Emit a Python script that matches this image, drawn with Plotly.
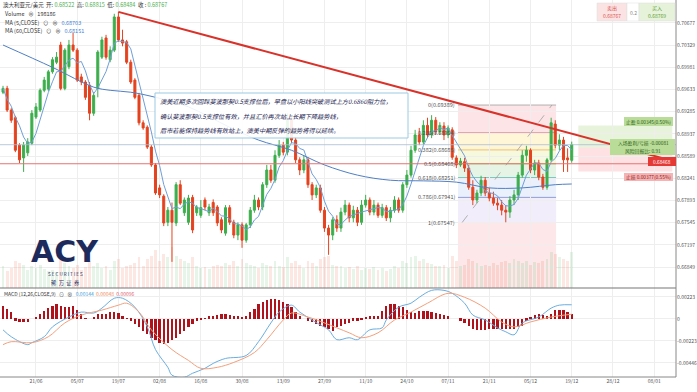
import plotly.graph_objects as go
import pandas as pd

# ---------------- data ----------------
BARS = list(range(139))
OPEN = [.6959,.6965,.6931,.6919,.6876,.6856,.6864,.6879,.6920,.6931,
        .6962,.6964,.6991,.7006,.7033,.6965,.6999,.7033,.7025,.6983,
        .6975,.6970,.6926,.6965,.7014,.7044,.7010,.7025,.7077,.7041,
        .7038,.7006,.6978,.6954,.6911,.6904,.6873,.6845,.6809,.6796,
        .6755,.6774,.6754,.6814,.6770,.6755,.6794,.6770,.6766,.6790,
        .6770,.6786,.6779,.6759,.6738,.6778,.6755,.6735,.6751,.6727,
        .6751,.6774,.6790,.6779,.6814,.6837,.6821,.6860,.6876,.6865,
        .6915,.6884,.6853,.6837,.6853,.6814,.6798,.6809,.6774,.6746,
        .6735,.6759,.6746,.6771,.6782,.6762,.6774,.6755,.6782,.6790,
        .6771,.6782,.6766,.6778,.6762,.6774,.6790,.6774,.6814,.6829,
        .6868,.6892,.6881,.6907,.6892,.6915,.6897,.6906,.6892,.6900,
        .6856,.6845,.6850,.6840,.6810,.6790,.6801,.6821,.6801,.6793,
        .6785,.6782,.6774,.6771,.6790,.6798,.6829,.6860,.6868,.6837,
        .6848,.6826,.6810,.6853,.6909,.6876,.6884,.6856,.68522]
HIGH = [.6969,.6969,.6934,.6922,.6879,.6881,.6887,.6931,.6942,.6965,
        .6983,.6994,.7014,.7022,.7038,.7028,.7041,.7052,.7028,.6988,
        .6978,.6975,.6959,.7025,.7046,.7049,.7031,.7082,.7085,.7057,
        .7041,.7010,.6981,.6958,.6915,.6907,.6876,.6848,.6814,.6799,
        .6779,.6786,.6818,.6821,.6794,.6798,.6798,.6782,.6790,.6794,
        .6784,.6791,.6782,.6763,.6782,.6782,.6759,.6755,.6755,.6754,
        .6779,.6798,.6794,.6818,.6845,.6845,.6868,.6884,.6881,.6926,
        .6920,.6889,.6857,.6860,.6857,.6818,.6814,.6814,.6779,.6751,
        .6763,.6766,.6778,.6790,.6786,.6781,.6779,.6790,.6798,.6794,
        .6790,.6786,.6784,.6782,.6779,.6796,.6794,.6818,.6837,.6875,
        .6900,.6903,.6915,.6919,.6923,.6920,.6912,.6912,.6907,.6904,
        .6860,.6856,.6856,.6845,.6821,.6806,.6828,.6826,.6809,.6803,
        .6793,.6790,.6782,.6796,.6806,.6834,.6868,.6875,.6871,.6853,
        .6853,.6831,.6856,.6919,.6915,.6893,.6889,.6871,.68815]
LOW = [.6956,.6928,.6911,.6865,.6848,.6834,.6859,.6876,.6917,.6928,
       .6959,.6961,.6988,.7003,.6962,.6962,.6995,.7022,.6975,.6970,
       .6947,.6915,.6922,.6951,.7011,.7010,.7006,.7022,.7038,.7031,
       .7003,.6972,.6948,.6907,.6900,.6870,.6842,.6798,.6793,.6749,
       .6749,.6693,.6749,.6782,.6765,.6751,.6738,.6765,.6762,.6774,
       .6765,.6765,.6749,.6738,.6734,.6751,.6730,.6727,.6715,.6723,
       .6746,.6770,.6774,.6774,.6809,.6817,.6817,.6856,.6860,.6860,
       .6879,.6848,.6829,.6832,.6809,.6790,.6793,.6770,.6740,.6704,
       .6727,.6740,.6740,.6766,.6755,.6755,.6749,.6751,.6778,.6766,
       .6766,.6762,.6762,.6757,.6755,.6770,.6770,.6770,.6809,.6825,
       .6864,.6876,.6876,.6887,.6887,.6892,.6892,.6884,.6887,.6853,
       .6840,.6842,.6834,.6806,.6782,.6785,.6796,.6796,.6788,.6781,
       .6774,.6766,.6755,.6762,.6782,.6790,.6825,.6850,.6832,.6829,
       .6821,.6806,.6806,.6850,.6871,.6868,.6834,.6834,.68484]
CLOSE = [.6965,.6931,.6915,.6868,.6853,.6876,.6881,.6926,.6936,.6962,
         .6978,.6991,.7010,.7014,.6965,.7025,.7033,.7025,.6978,.6975,
         .6951,.6926,.6954,.7022,.7041,.7014,.7025,.7077,.7041,.7036,
         .7006,.6975,.6951,.6911,.6903,.6873,.6845,.6801,.6798,.6754,
         .6774,.6755,.6814,.6785,.6790,.6793,.6743,.6779,.6778,.6779,
         .6779,.6770,.6754,.6743,.6778,.6755,.6735,.6751,.6727,.6751,
         .6774,.6790,.6779,.6814,.6837,.6821,.6860,.6876,.6865,.6915,
         .6884,.6853,.6837,.6853,.6814,.6798,.6809,.6774,.6746,.6735,
         .6759,.6746,.6771,.6782,.6762,.6774,.6755,.6782,.6790,.6771,
         .6782,.6766,.6778,.6762,.6774,.6790,.6774,.6814,.6829,.6868,
         .6892,.6881,.6907,.6892,.6915,.6897,.6907,.6892,.6903,.6857,
         .6845,.6851,.6840,.6810,.6790,.6801,.6821,.6801,.6793,.6785,
         .6782,.6774,.6771,.6790,.6798,.6829,.6860,.6868,.6837,.6848,
         .6826,.6810,.6853,.6911,.6876,.6884,.6853,.6853,.68767]
VOLUME = [120,95,110,150,140,130,100,120,110,130,
          105,95,100,90,160,140,120,110,130,100,
          115,150,120,140,110,125,100,150,160,110,
          120,130,140,170,120,160,180,210,150,190,
          170,230,180,160,150,140,170,120,110,115,
          105,120,130,125,140,130,150,120,160,140,
          130,120,110,140,130,120,150,125,115,170,
          140,150,130,110,150,140,120,160,170,180,
          130,120,125,110,115,105,120,100,110,105,
          115,100,110,95,105,120,110,150,140,170,
          180,150,160,140,135,120,125,130,110,180,
          150,120,130,160,150,140,120,130,125,140,
          130,145,150,140,160,150,140,150,130,145,
          140,150,160,200,190,170,160,150,198]   # thousands

MA60_BARS = [0,12,22,26,31,37,45,55,62,70,78,86,94,102,110,118,126,134,138]
MA60_VALS = [0.7033,0.6998,0.6967,0.6962,0.6959,0.6951,0.6936,0.6904,0.6884,0.6868,
             0.6845,0.6829,0.6821,0.6820,0.6818,0.6809,0.6809,0.6814,0.68151]

DIF_BARS = [0,2,6,7,10,12,16,19,22,24,27,29,32,35,37,40,41,44,46,49,51,54,59,62,65,67,70,72,75,77,
            79,81,84,86,89,92,93,96,99,101,104,107,109,112,114,117,120,122,124,126,130,133,135,138]
DIF_VALS = [-0.0011,-0.0018,-0.0026,-0.0024,-0.0018,-0.0008,0.0002,0.0007,0.0006,0.0011,
            0.0021,0.0021,0.0012,-0.0008,-0.0031,-0.0049,-0.0057,-0.0059,-0.0055,-0.0050,
            -0.0045,-0.0040,-0.0037,-0.0023,-0.0004,0.0007,0.0014,0.0007,-0.0001,-0.0006,
            -0.0011,-0.0021,-0.0019,-0.0021,-0.0011,-0.0009,-0.0001,0.0012,0.0016,0.0022,
            0.0029,0.0029,0.0026,0.0016,0.0004,-0.0001,-0.0009,-0.0013,-0.0016,-0.0004,
            0.0002,0.0011,0.0014,0.00144]
DEA_BARS = [0,2,7,11,15,19,24,28,30,33,36,41,45,48,52,56,61,64,68,70,74,78,84,87,91,95,99,103,108,112,
            117,121,124,128,133,138]
DEA_VALS = [-0.0026,-0.0023,-0.0024,-0.0018,-0.0004,0.0004,0.0009,0.0014,0.0016,0.0007,
            -0.0011,-0.0031,-0.0042,-0.0050,-0.0049,-0.0044,-0.0034,-0.0021,-0.0001,0.0006,
            0.0002,-0.0004,-0.0014,-0.0019,-0.0014,-0.0001,0.0007,0.0016,0.0026,0.0022,
            0.0011,-0.0003,-0.0008,-0.0003,0.0002,0.00048]
HIST = [0.00135,0.0010,0.0007,-0.0002,-0.0003,-0.0003,-0.0003,0.0000,0.0002,0.0005,
        0.0008,0.0011,0.0013,0.0015,0.0013,0.0012,0.0012,0.0013,0.0009,0.0005,
        0.0001,0.0000,0.0002,0.0005,0.0005,0.0005,0.0007,0.0007,0.0006,0.0003,
        0.0001,-0.0002,-0.0005,-0.0008,-0.0012,-0.0015,-0.0019,-0.0021,-0.0024,-0.0025,
        -0.0024,-0.0021,-0.0019,-0.0015,-0.0012,-0.0008,-0.0005,-0.0002,-0.0001,0.0001,
        0.0003,0.0003,0.0004,0.0005,0.0005,0.0004,0.0003,0.0003,0.0002,0.0003,
        0.0007,0.0010,0.0015,0.0017,0.0019,0.0020,0.0020,0.0019,0.0017,0.0015,
        0.0012,0.0007,0.0003,0.0000,-0.0002,-0.0003,-0.0005,-0.0007,-0.0008,-0.0010,
        -0.0012,-0.0008,-0.0007,-0.0005,-0.0004,
        -0.0002,-0.0002,-0.0001,0.0002,0.0003,
        0.0003,0.0003,0.0008,0.0013,0.0015,0.0015,0.0013,0.0012,0.0009,0.0007,
        0.0006,0.0008,0.0008,0.0008,0.0007,0.0006,0.0005,0.0004,0.0003,0.0000,
        0.0000,-0.0002,-0.0004,-0.0007,-0.0010,-0.0011,-0.0011,-0.0011,-0.0010,-0.0010,
        -0.0010,-0.0010,-0.0010,-0.0010,-0.0010,-0.0008,-0.0007,-0.0002,0.0002,0.0004,
        0.0005,0.0004,0.0003,0.0005,0.0009,0.0009,0.0009,0.0007,0.0005]

DATE_TICK_BARS = [8,18,28,38,48,58,68,78,88,98,108,118,128,138,148,158]
DATE_LABELS = ["21/06","05/07","19/07","02/08","16/08","30/08","13/09","27/09",
               "11/10","24/10","07/11","21/11","05/12","19/12","28/12","08/01"]
PRICE_TICKS = [0.66849,0.67197,0.67545,0.67893,0.68241,0.68589,0.68937,
               0.69285,0.69633,0.69981,0.70329,0.70677,0.71025]
MACD_TICKS = [0.00223,0,-0.00223,-0.00446]
MACD_TICK_TEXT = ["0.00223","0","-0.00223","-0.00446"]

# drawing tools
TREND_BARS = [28, 163.3]
TREND_PRICES = [0.7085, 0.6850]
FIB_HIGH, FIB_LOW = 0.69389, 0.67547
FIB_RATIOS = [0, 0.236, 0.382, 0.5, 0.618, 0.786, 1]
FIB_START_BAR, FIB_END_BAR = 110.4, 134.2
SUPPORT_LINE = 0.68468
LAST_PRICE = 0.68767
ENTRY = 0.68725
TARGET_DIST, STOP_DIST = 0.00345, 0.00377
POS_START_BAR, POS_END_BAR = 139.6, 162.4

# ---------------- styling ----------------
UP, DOWN = "#3cae4c", "#e4431f"
FONT = "Noto Sans CJK SC, Noto Sans, sans-serif"
W, H = 697, 392
PLOT_W, PLOT_H = 676, 377
SPLIT = 1 - 288 / PLOT_H

def px(x):
    return x / PLOT_W

def py(y):
    return 1 - y / PLOT_H

close_s = pd.Series(CLOSE)
ma5 = close_s.rolling(5, min_periods=1).mean()

fig = go.Figure()

vol_colors = ["rgba(60,174,76,0.13)" if c >= o else "rgba(228,67,31,0.13)" for o, c in zip(OPEN, CLOSE)]
fig.add_trace(go.Bar(x=BARS, y=[v * 1000 for v in VOLUME], marker_color=vol_colors,
                     marker_line_width=0, xaxis="x", yaxis="y3", width=0.7, hoverinfo="skip"))
fig.add_trace(go.Candlestick(x=BARS, open=OPEN, high=HIGH, low=LOW, close=CLOSE,
                             increasing=dict(line=dict(color=UP, width=1), fillcolor=UP),
                             decreasing=dict(line=dict(color=DOWN, width=1), fillcolor=DOWN),
                             whiskerwidth=0, xaxis="x", yaxis="y"))
fig.add_trace(go.Scatter(x=BARS, y=ma5, mode="lines", line=dict(color="#6f9fd8", width=1),
                         xaxis="x", yaxis="y"))
fig.add_trace(go.Scatter(x=MA60_BARS, y=MA60_VALS, mode="lines", line=dict(color="#4f7fc4", width=1, shape="spline"),
                         xaxis="x", yaxis="y"))
fig.add_trace(go.Bar(x=BARS, y=HIST, marker_color="#b0121b", marker_line_width=0, width=0.55,
                     xaxis="x2", yaxis="y2"))
fig.add_trace(go.Scatter(x=DIF_BARS, y=DIF_VALS, mode="lines", line=dict(color="#6aaee0", width=1, shape="spline"),
                         xaxis="x2", yaxis="y2"))
fig.add_trace(go.Scatter(x=DEA_BARS, y=DEA_VALS, mode="lines", line=dict(color="#f3a07c", width=1, shape="spline"),
                         xaxis="x2", yaxis="y2"))

shapes = []
levels = [FIB_HIGH - r * (FIB_HIGH - FIB_LOW) for r in FIB_RATIOS]
ext_low = FIB_HIGH - 1.618 * (FIB_HIGH - FIB_LOW)
band_cols = ["rgba(242,54,69,0.13)", "rgba(255,193,7,0.16)", "rgba(205,220,57,0.16)",
             "rgba(76,175,80,0.14)", "rgba(90,140,230,0.12)", "rgba(140,110,220,0.12)"]
line_cols = ["#9e9e9e", "#e57373", "#f0b050", "#8bc34a", "#4db6ac", "#7986cb", "#9e9e9e"]
for i in range(6):
    shapes.append(dict(type="rect", xref="x", yref="y", x0=FIB_START_BAR, x1=FIB_END_BAR,
                       y0=levels[i + 1], y1=levels[i], fillcolor=band_cols[i], line_width=0, layer="below"))
shapes.append(dict(type="rect", xref="x", yref="y", x0=FIB_START_BAR, x1=FIB_END_BAR,
                   y0=ext_low, y1=levels[-1], fillcolor="rgba(242,54,69,0.12)", line_width=0, layer="below"))
for lv, col in zip(levels, line_cols):
    shapes.append(dict(type="line", xref="x", yref="y", x0=FIB_START_BAR, x1=FIB_END_BAR,
                       y0=lv, y1=lv, line=dict(color=col, width=0.8), layer="below"))
shapes.append(dict(type="line", xref="x", yref="y", x0=FIB_START_BAR + 1, y0=FIB_LOW, x1=FIB_END_BAR - 1, y1=FIB_HIGH,
                   line=dict(color="#9e9e9e", width=0.8, dash="dash")))
shapes.append(dict(type="rect", xref="x", yref="y", x0=POS_START_BAR, x1=POS_END_BAR,
                   y0=ENTRY, y1=ENTRY + TARGET_DIST, fillcolor="rgba(139,195,74,0.2)", line_width=0, layer="below"))
shapes.append(dict(type="rect", xref="x", yref="y", x0=POS_START_BAR, x1=POS_END_BAR,
                   y0=ENTRY - STOP_DIST, y1=ENTRY, fillcolor="rgba(242,54,69,0.15)", line_width=0, layer="below"))
shapes.append(dict(type="line", xref="x domain", yref="y", x0=0, x1=1, y0=SUPPORT_LINE, y1=SUPPORT_LINE,
                   line=dict(color="#e57373", width=1.2)))
shapes.append(dict(type="line", xref="x domain", yref="y", x0=0, x1=1, y0=LAST_PRICE, y1=LAST_PRICE,
                   line=dict(color="#a9bccf", width=0.8)))
shapes.append(dict(type="line", xref="x", yref="y", x0=TREND_BARS[0], y0=TREND_PRICES[0],
                   x1=TREND_BARS[1], y1=TREND_PRICES[1], line=dict(color="#d8322a", width=2)))
shapes.append(dict(type="line", xref="paper", yref="paper", x0=0, x1=1, y0=SPLIT, y1=SPLIT,
                   line=dict(color="#777", width=1.2)))
shapes.append(dict(type="line", xref="paper", yref="paper", x0=1, x1=1, y0=0, y1=1,
                   line=dict(color="#888", width=1)))
shapes.append(dict(type="line", xref="paper", yref="paper", x0=0, x1=1, y0=0, y1=0,
                   line=dict(color="#888", width=1)))
shapes.append(dict(type="rect", xref="paper", yref="paper", x0=px(155), x1=px(408), y0=py(138), y1=py(93),
                   fillcolor="rgba(255,255,255,0.9)", line=dict(color="#9cc9e3", width=1)))
shapes.append(dict(type="rect", xref="paper", yref="paper", x0=px(597), x1=px(627), y0=py(21), y1=py(3),
                   fillcolor="#fbe3e3", line=dict(color="#ddd", width=0.5)))
shapes.append(dict(type="rect", xref="paper", yref="paper", x0=px(627), x1=px(639), y0=py(21), y1=py(3),
                   fillcolor="#ffffff", line=dict(color="#ddd", width=0.5)))
shapes.append(dict(type="rect", xref="paper", yref="paper", x0=px(639), x1=px(675), y0=py(21), y1=py(3),
                   fillcolor="#e6f2d9", line=dict(color="#ddd", width=0.5)))
shapes.append(dict(type="rect", xref="paper", yref="paper", x0=px(624), x1=px(673), y0=py(126), y1=py(117),
                   fillcolor="#b9dc98", line_width=0))
shapes.append(dict(type="rect", xref="paper", yref="paper", x0=px(610), x1=px(675), y0=py(155), y1=py(139),
                   fillcolor="#b9dc98", line_width=0))
shapes.append(dict(type="rect", xref="paper", yref="paper", x0=px(624), x1=px(673), y0=py(181), y1=py(173),
                   fillcolor="#f6b3b3", line_width=0))
shapes.append(dict(type="rect", xref="paper", yref="paper", x0=px(648), x1=px(676), y0=py(166), y1=py(157),
                   fillcolor="#e53935", line_width=0))

ann = []
def text(x, y, s, size=6, color="#333", anchor="left", yanchor="middle", family=FONT):
    ann.append(dict(xref="paper", yref="paper", x=px(x), y=py(y), text=s, showarrow=False,
                    xanchor=anchor, yanchor=yanchor, font=dict(size=size, color=color, family=family),
                    borderpad=0))

G = "#4caf50"
B = "#3d7fd9"
text(2, 5, f"澳大利亚元/美元  开: <span style='color:{G}'>0.68522</span>  高: <span style='color:{G}'>0.68815</span>"
           f"  低: <span style='color:{G}'>0.68484</span>  收 : <span style='color:{G}'>0.68767</span>", size=5.5)
text(4, 14, "Volume   ⊗   198186", size=5.5)
text(4, 23, f"MA (5,CLOSE)   ⊙   ⊗   <span style='color:{B}'>0.68703</span>", size=5.5)
text(4, 31, f"MA (60,CLOSE)   ⊙   ⊗   <span style='color:{B}'>0.68151</span>", size=5.5)
text(3, 293, "MACD (12,26,CLOSE,9)   ⊙   ⊗   <span style='color:#3d9ad9'>0.00144</span>  "
             "<span style='color:#f08a5d'>0.00048</span>  <span style='color:#e06070'>0.00096</span>", size=5)

text(159, 101, "<i>澳美近期多次回踩斐波那契0.5支撑位后，早盘以小阳线突破测试上方0.6860阻力位，</i>", size=6.2, color="#1b2350")
text(159, 116, "<i>确认斐波那契0.5支撑位有效，并且汇价再次站上长期下降趋势线，</i>", size=6.2, color="#1b2350")
text(159, 131, "<i>后市若能保持趋势线有效站上，澳美中期反弹的趋势将得以延续。</i>", size=6.2, color="#1b2350")

fib_names = ["0", "0.236", "0.382", "0.5", "0.618", "0.786", "1"]
for nm, lv in zip(fib_names, levels):
    ann.append(dict(xref="x", yref="y", x=FIB_START_BAR - 0.3, y=lv, text=f"{nm}({lv:.5f})", showarrow=False,
                    xanchor="right", yanchor="middle", font=dict(size=5.5, color="#555", family=FONT)))

text(612, 8, "卖出", size=5, color="#d9534f", anchor="center")
text(612, 16, "0.68767", size=5, color="#d9534f", anchor="center")
text(633, 12, "0.2", size=5, color="#888", anchor="center")
text(657, 8, "买入", size=5, color="#5a9e3a", anchor="center")
text(657, 16, "0.68769", size=5, color="#5a9e3a", anchor="center")

text(648, 121.5, "止盈 0.00345(0.50%)", size=4.8, color="#2e5e1a", anchor="center")
text(643, 143, "入场盈利/亏损 -0.00081", size=4.8, color="#2e5e1a", anchor="center")
text(643, 151, "风险回报比: 0.91", size=4.8, color="#2e5e1a", anchor="center")
text(648, 177, "止损 0.00377(0.55%)", size=4.8, color="#8e1b1b", anchor="center")
text(662, 161.5, "0.68468", size=4.8, color="#ffffff", anchor="center")

text(65, 270, "<b>ACY</b>", size=30, color="#1d2b5c", anchor="center", yanchor="bottom",
     family="DejaVu Sans, sans-serif")
text(65, 273.5, "S E C U R I T I E S", size=4.6, color="#1d2b5c", anchor="center")
text(65, 282.5, "稀  万  证  券", size=5.3, color="#1d2b5c", anchor="center")

axis_font = dict(size=5, color="#555", family=FONT)
fig.update_layout(
    width=W, height=H, margin=dict(l=0, r=W - PLOT_W, t=0, b=H - PLOT_H, autoexpand=False),
    plot_bgcolor="white", paper_bgcolor="white", showlegend=False, bargap=0,
    font=dict(family=FONT),
    xaxis=dict(domain=[0, 1], range=[-0.73, 163.3], anchor="y", tickvals=DATE_TICK_BARS,
               showticklabels=False, showgrid=True, gridcolor="#eeeeee", gridwidth=0.8,
               zeroline=False, rangeslider=dict(visible=False), fixedrange=True),
    xaxis2=dict(domain=[0, 1], range=[-0.73, 163.3], anchor="y2", matches="x",
                tickvals=DATE_TICK_BARS, ticktext=DATE_LABELS, tickfont=axis_font,
                showgrid=True, gridcolor="#eeeeee", gridwidth=0.8, zeroline=False, ticks=""),
    yaxis=dict(domain=[SPLIT, 1], range=[0.66520, 0.71036], side="right", anchor="x",
               tickvals=PRICE_TICKS, ticktext=[f"{v:.5f}" for v in PRICE_TICKS], tickfont=axis_font,
               showgrid=True, gridcolor="#eeeeee", gridwidth=0.8, zeroline=False, ticks=""),
    yaxis2=dict(domain=[0, SPLIT], range=[-0.00588, 0.00314], side="right", anchor="x2",
                tickvals=MACD_TICKS, ticktext=MACD_TICK_TEXT, tickfont=axis_font,
                showgrid=True, gridcolor="#eeeeee", gridwidth=0.8, zeroline=False, ticks=""),
    yaxis3=dict(overlaying="y", range=[0, 1.6e6], visible=False, anchor="x"),
    shapes=shapes, annotations=ann,
)
fig.write_html("out.html", config={"displayModeBar": False},
               post_script="document.body.style.margin='0px';document.body.style.padding='0px';")
